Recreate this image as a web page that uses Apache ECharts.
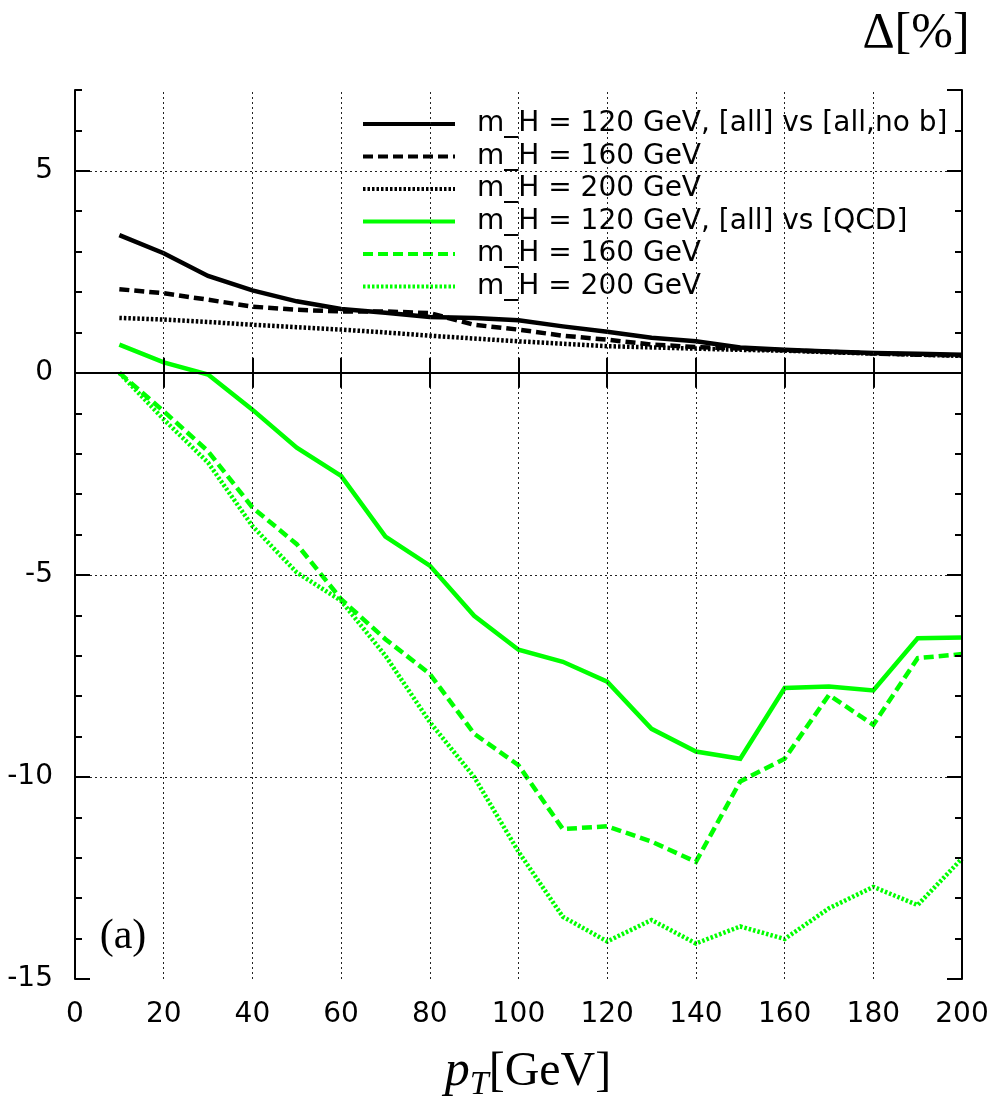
<!DOCTYPE html>
<html><head><meta charset="utf-8">
<script src="https://cdn.jsdelivr.net/npm/echarts@6/dist/echarts.min.js"></script>
<style>html,body{margin:0;padding:0;background:#fff}#c{width:1002px;height:1108px}</style>
</head><body><div id="c"></div>
<script>
// ---- data ----
const pT = [10,20,30,40,50,60,70,80,90,100,110,120,130,140,150,160,170,180,190,200];
const xTicks = [0,20,40,60,80,100,120,140,160,180,200];
const yTicks = [-15,-10,-5,0,5];
const noB120 = [3.41,2.96,2.40,2.04,1.77,1.58,1.49,1.38,1.36,1.30,1.15,1.02,0.87,0.78,0.63,0.57,0.53,0.49,0.47,0.45];
const noB160 = [2.07,1.97,1.81,1.64,1.56,1.52,1.52,1.48,1.19,1.07,0.92,0.82,0.70,0.64,0.60,0.56,0.52,0.48,0.45,0.43];
const noB200 = [1.36,1.32,1.26,1.19,1.13,1.07,1.00,0.92,0.85,0.78,0.72,0.66,0.63,0.60,0.57,0.55,0.51,0.48,0.45,0.42];
const qcd120 = [0.70,0.26,-0.04,-0.91,-1.85,-2.55,-4.05,-4.77,-6.01,-6.85,-7.15,-7.64,-8.81,-9.37,-9.55,-7.80,-7.76,-7.86,-6.57,-6.55];
const qcd160 = [0.0,-0.95,-1.94,-3.33,-4.24,-5.60,-6.59,-7.45,-8.93,-9.71,-11.29,-11.22,-11.60,-12.10,-10.11,-9.55,-7.97,-8.71,-7.06,-6.96];
const qcd200 = [0.0,-1.15,-2.22,-3.79,-4.94,-5.64,-7.00,-8.64,-10.00,-11.85,-13.46,-14.07,-13.54,-14.12,-13.70,-14.01,-13.25,-12.72,-13.17,-12.02];
const seriesKeys = ['b120','b160','b200','q120','q160','q200'];
const legendLabels = {
  b120: 'm_H = 120 GeV, [all] vs [all,no b]',
  b160: 'm_H = 160 GeV',
  b200: 'm_H = 200 GeV',
  q120: 'm_H = 120 GeV, [all] vs [QCD]',
  q160: 'm_H = 160 GeV',
  q200: 'm_H = 200 GeV'
};

const SANS = '"DejaVu Sans", sans-serif';
const SERIF = '"Liberation Serif", serif';
const GREEN = '#00ff00';
const DASH = [10,5];
const DOT = [2.5,2];

function pairs(ys){ return pT.map((x,i)=>[x, ys[i]]); }
function mk(name, ys, color, type){
  return {
    name, type:'line', data: pairs(ys), symbol:'none', showSymbol:false, z:3,
    xAxisIndex:0, yAxisIndex:0,
    lineStyle:{color, width:4.5, type, cap:'butt', join:'miter'},
    itemStyle:{color}, emphasis:{disabled:true}, animation:false
  };
}

const gridLines = [];
xTicks.slice(1,-1).forEach(v => gridLines.push({xAxis:v, lineStyle:{type:[2,3], color:'#222', width:1}}));
yTicks.filter(v => v !== 0 && v !== yTicks[0]).forEach(v => gridLines.push({yAxis:v, lineStyle:{type:[2,3], color:'#222', width:1}}));
gridLines.push({yAxis:0, lineStyle:{type:[9,3,1.5,3], color:'#000', width:1}});

const frameLine = {show:true, lineStyle:{color:'#000', width:2}};
const chart = echarts.init(document.getElementById('c'), null, {renderer:'canvas'});
chart.setOption({
  animation:false,
  backgroundColor:'#fff',
  grid:{left:75, right:40, top:90, bottom:129, containLabel:false},
  legend:{
    data: seriesKeys, orient:'vertical', left:341, top:105, z:5,
    backgroundColor:'#fff', padding:[3,17,3,20],
    itemWidth:92, itemHeight:14, itemGap:0.5,
    formatter: n => legendLabels[n],
    itemStyle:{opacity:0, color:'rgba(0,0,0,0)', borderWidth:0},
    lineStyle:{width:4},
    textStyle:{fontFamily:SANS, fontSize:28, color:'#000', lineHeight:32, padding:[0,0,0,17]},
    selectedMode:false
  },
  xAxis:[
    {type:'value', position:'bottom', min:0, max:200, interval:20, z:10,
     axisLine:frameLine, splitLine:{show:false},
     axisTick:{show:true, inside:true, length:15, lineStyle:{color:'#000', width:2}},
     axisLabel:{fontFamily:SANS, fontSize:28, color:'#000', margin:22}},
    {type:'value', position:'top', min:0, max:200, interval:20, z:10,
     axisLine:frameLine, splitLine:{show:false},
     axisTick:{show:true, inside:true, length:15, lineStyle:{color:'#000', width:2}},
     axisLabel:{show:false}}
  ],
  yAxis:[
    {type:'value', position:'left', min:-15, max:7, interval:5, z:10,
     axisLine:frameLine, splitLine:{show:false},
     axisTick:{show:true, inside:true, length:15, lineStyle:{color:'#000', width:2}},
     axisLabel:{fontFamily:SANS, fontSize:28, color:'#000', margin:22, showMaxLabel:false}},
    {type:'value', position:'left', min:-15, max:7, interval:1, z:10,
     axisLine:{show:false}, splitLine:{show:false},
     axisTick:{show:true, inside:true, length:7, lineStyle:{color:'#000', width:2}},
     axisLabel:{show:false}},
    {type:'value', position:'right', min:-15, max:7, interval:5, z:10,
     axisLine:frameLine, splitLine:{show:false},
     axisTick:{show:true, inside:true, length:15, lineStyle:{color:'#000', width:2}},
     axisLabel:{show:false}},
    {type:'value', position:'right', min:-15, max:7, interval:1, z:10,
     axisLine:{show:false}, splitLine:{show:false},
     axisTick:{show:true, inside:true, length:7, lineStyle:{color:'#000', width:2}},
     axisLabel:{show:false}}
  ],
  series:[
    {name:'grid', type:'line', data:[], z:1, xAxisIndex:0, yAxisIndex:0, silent:true,
     markLine:{silent:true, symbol:['none','none'], label:{show:false}, animation:false,
               emphasis:{disabled:true}, data:gridLines}},
    mk('b120', noB120, '#000', 'solid'),
    mk('b160', noB160, '#000', DASH),
    mk('b200', noB200, '#000', DOT),
    mk('q120', qcd120, GREEN, 'solid'),
    mk('q160', qcd160, GREEN, DASH),
    mk('q200', qcd200, GREEN, DOT)
  ],
  graphic:[
    {type:'text', x:916, y:34, z:20, style:{text:'Δ[%]', fontFamily:SERIF, fontSize:50, fill:'#000', align:'center', verticalAlign:'middle'}},
    {type:'text', x:123, y:937, z:20, style:{text:'(a)', fontFamily:SERIF, fontSize:42, fill:'#000', align:'center', verticalAlign:'middle'}},
    {type:'text', x:528, y:1072, z:20, style:{
      text:'{p|p}{t|T}{g|[GeV]}', align:'center', verticalAlign:'middle', fill:'#000',
      rich:{
        p:{fontFamily:SERIF, fontStyle:'italic', fontSize:50, lineHeight:60, verticalAlign:'middle'},
        t:{fontFamily:SERIF, fontStyle:'italic', fontSize:34, lineHeight:26, verticalAlign:'bottom'},
        g:{fontFamily:SERIF, fontSize:48, lineHeight:60, verticalAlign:'middle'}
      }}}
  ]
});
</script></body></html>
